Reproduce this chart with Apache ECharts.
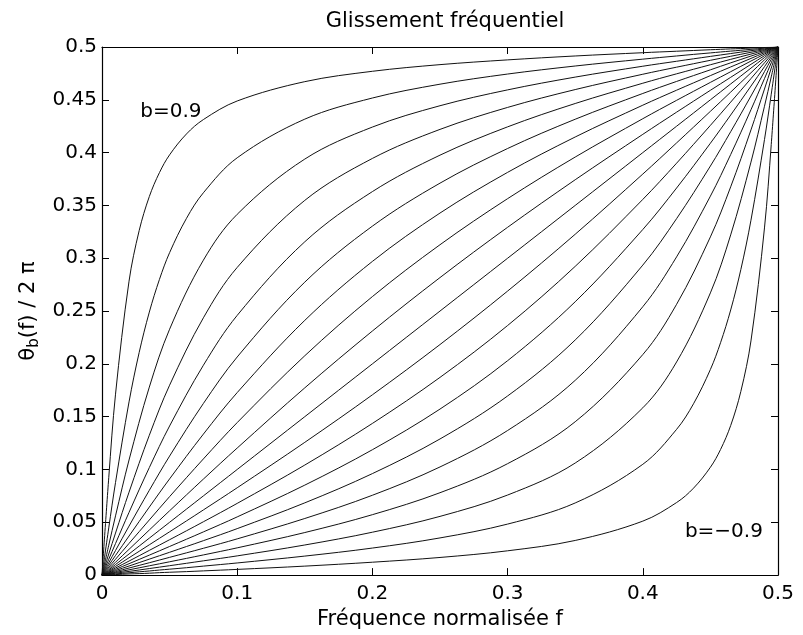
<!DOCTYPE html>
<html>
<head>
<meta charset="utf-8">
<script src="https://cdn.jsdelivr.net/npm/echarts@6/dist/echarts.min.js"></script>
<style>
  html, body { margin: 0; padding: 0; background: #fff; }
  #main { width: 803px; height: 635px; }
</style>
</head>
<body>
<div id="main"></div>
<script>
// frequence normalisee (axe x), pas plus fin pres des bords
var freq = [0, 0.005, 0.01, 0.02, 0.035, 0.05, 0.075, 0.1, 0.15, 0.2, 0.25, 0.3, 0.35, 0.4, 0.425, 0.45, 0.465, 0.48, 0.49, 0.495, 0.5];
// grille plus serree pour les courbes b=+-0.9 et b=+-0.8 (coudes marques)
var freqFine = [0, 0.005, 0.01, 0.02, 0.0275, 0.035, 0.0425, 0.05, 0.0625, 0.075, 0.1, 0.15, 0.2, 0.25, 0.3, 0.35, 0.4, 0.425, 0.4375, 0.45, 0.4575, 0.465, 0.4725, 0.48, 0.49, 0.495, 0.5];

// theta_b(f)/2pi pour chaque b
var b_p9 = [0, 0.0923, 0.1713, 0.2783, 0.3262, 0.3584, 0.3811, 0.3979, 0.4177, 0.4313, 0.4489, 0.4672, 0.4770, 0.4833, 0.4878, 0.4915, 0.4946, 0.4960, 0.4967, 0.4974, 0.4978, 0.4982, 0.4985, 0.4990, 0.4995, 0.4997, 0.5];
var b_p8 = [0, 0.0447, 0.0877, 0.1640, 0.2108, 0.2490, 0.2800, 0.3053, 0.3378, 0.3620, 0.3951, 0.4317, 0.4517, 0.4648, 0.4744, 0.4820, 0.4885, 0.4915, 0.4930, 0.4944, 0.4953, 0.4961, 0.4969, 0.4978, 0.4989, 0.4994, 0.5];
var b_p7 = [0, 0.0283, 0.0561, 0.1090, 0.1780, 0.2328, 0.2982, 0.3416, 0.3939, 0.4242, 0.4444, 0.4594, 0.4715, 0.4818, 0.4865, 0.4911, 0.4938, 0.4965, 0.4982, 0.4991, 0.5];
var b_p6 = [0, 0.0200, 0.0398, 0.0785, 0.1324, 0.1798, 0.2436, 0.2913, 0.3548, 0.3945, 0.4220, 0.4428, 0.4597, 0.4742, 0.4809, 0.4874, 0.4912, 0.4950, 0.4975, 0.4988, 0.5];
var b_p5 = [0, 0.0150, 0.0299, 0.0594, 0.1018, 0.1412, 0.1987, 0.2459, 0.3156, 0.3631, 0.3976, 0.4244, 0.4465, 0.4657, 0.4746, 0.4832, 0.4883, 0.4933, 0.4967, 0.4983, 0.5];
var b_p4 = [0, 0.0117, 0.0233, 0.0464, 0.0803, 0.1127, 0.1625, 0.2065, 0.2774, 0.3304, 0.3711, 0.4039, 0.4316, 0.4560, 0.4674, 0.4784, 0.4850, 0.4914, 0.4957, 0.4979, 0.5];
var b_p3 = [0, 0.0093, 0.0186, 0.0370, 0.0644, 0.0911, 0.1335, 0.1728, 0.2412, 0.2970, 0.3428, 0.3813, 0.4148, 0.4449, 0.4591, 0.4729, 0.4811, 0.4892, 0.4946, 0.4973, 0.5];
var b_p2 = [0, 0.0075, 0.0150, 0.0300, 0.0522, 0.0743, 0.1100, 0.1444, 0.2077, 0.2637, 0.3128, 0.3564, 0.3958, 0.4321, 0.4495, 0.4665, 0.4766, 0.4867, 0.4933, 0.4967, 0.5];
var b_p1 = [0, 0.0061, 0.0122, 0.0244, 0.0427, 0.0609, 0.0909, 0.1203, 0.1773, 0.2311, 0.2817, 0.3293, 0.3743, 0.4173, 0.4383, 0.4590, 0.4713, 0.4836, 0.4918, 0.4959, 0.5];
var b_0  = [0, 0.005, 0.01, 0.02, 0.035, 0.05, 0.075, 0.1, 0.15, 0.2, 0.25, 0.3, 0.35, 0.4, 0.425, 0.45, 0.465, 0.48, 0.49, 0.495, 0.5];
var b_m1 = [0, 0.0041, 0.0082, 0.0164, 0.0287, 0.0410, 0.0617, 0.0827, 0.1257, 0.1707, 0.2183, 0.2689, 0.3227, 0.3797, 0.4092, 0.4391, 0.4573, 0.4756, 0.4878, 0.4939, 0.5];
var b_m2 = [0, 0.0033, 0.0067, 0.0133, 0.0234, 0.0335, 0.0505, 0.0679, 0.1042, 0.1436, 0.1872, 0.2363, 0.2923, 0.3557, 0.3900, 0.4258, 0.4478, 0.4701, 0.4850, 0.4925, 0.5];
var b_m3 = [0, 0.0027, 0.0054, 0.0108, 0.0189, 0.0271, 0.0409, 0.0551, 0.0852, 0.1187, 0.1572, 0.2030, 0.2588, 0.3272, 0.3665, 0.4089, 0.4356, 0.4630, 0.4814, 0.4907, 0.5];
var b_m4 = [0, 0.0021, 0.0043, 0.0086, 0.0151, 0.0216, 0.0326, 0.0440, 0.0684, 0.0961, 0.1289, 0.1696, 0.2226, 0.2935, 0.3375, 0.3873, 0.4198, 0.4536, 0.4767, 0.4883, 0.5];
var b_m5 = [0, 0.0017, 0.0033, 0.0067, 0.0117, 0.0168, 0.0254, 0.0343, 0.0536, 0.0756, 0.1024, 0.1369, 0.1844, 0.2541, 0.3013, 0.3588, 0.3982, 0.4406, 0.4701, 0.4850, 0.5];
var b_m6 = [0, 0.0013, 0.0025, 0.0050, 0.0088, 0.0126, 0.0191, 0.0258, 0.0403, 0.0572, 0.0780, 0.1055, 0.1452, 0.2088, 0.2564, 0.3202, 0.3676, 0.4215, 0.4602, 0.4800, 0.5];
var b_m7 = [0, 0.0009, 0.0018, 0.0035, 0.0062, 0.0089, 0.0135, 0.0182, 0.0285, 0.0406, 0.0556, 0.0758, 0.1061, 0.1584, 0.2018, 0.2672, 0.3221, 0.3910, 0.4439, 0.4717, 0.5];
var b_m8 = [0, 0.0006, 0.0011, 0.0022, 0.0031, 0.0039, 0.0048, 0.0056, 0.0070, 0.0085, 0.0115, 0.0180, 0.0256, 0.0352, 0.0483, 0.0683, 0.1049, 0.1380, 0.1622, 0.1947, 0.2200, 0.2510, 0.2892, 0.3360, 0.4123, 0.4553, 0.5];
var b_m9 = [0, 0.0003, 0.0005, 0.0011, 0.0014, 0.0018, 0.0023, 0.0027, 0.0033, 0.0040, 0.0054, 0.0085, 0.0122, 0.0167, 0.0230, 0.0328, 0.0511, 0.0687, 0.0823, 0.1021, 0.1189, 0.1416, 0.1738, 0.2217, 0.3287, 0.4077, 0.5];

var bNames = ['0.9', '0.8', '0.7', '0.6', '0.5', '0.4', '0.3', '0.2', '0.1', '0',
              '-0.1', '-0.2', '-0.3', '-0.4', '-0.5', '-0.6', '-0.7', '-0.8', '-0.9'];
var curves = [b_p9, b_p8, b_p7, b_p6, b_p5, b_p4, b_p3, b_p2, b_p1, b_0,
              b_m1, b_m2, b_m3, b_m4, b_m5, b_m6, b_m7, b_m8, b_m9];

var FONT = 'DejaVu Sans';

var myChart = echarts.init(document.getElementById('main'));

var series = [];
curves.forEach(function (c, k) {
  var xs = c.length === freqFine.length ? freqFine : freq;
  series.push({
    name: 'b=' + bNames[k],
    type: 'line',
    data: xs.map(function (f, i) { return [f, c[i]]; }),
    showSymbol: false,
    smooth: 0.35,
    lineStyle: { color: '#111', width: 1 },
    silent: true,
    z: 2
  });
});

function axisCommon() {
  return {
    type: 'value',
    min: 0,
    max: 0.5,
    axisLine: { show: true, onZero: false, lineStyle: { color: '#000', width: 1.2 } },
    axisTick: { show: true, inside: true, length: 7, lineStyle: { color: '#000' } },
    splitLine: { show: false }
  };
}

var xBottom = axisCommon();
xBottom.interval = 0.1;
xBottom.position = 'bottom';
xBottom.axisLabel = { margin: 9, color: '#000', fontFamily: FONT, fontSize: 20 };
xBottom.name = 'Fréquence normalisée f';
xBottom.nameLocation = 'middle';
xBottom.nameGap = 32;
xBottom.nameTextStyle = { color: '#000', fontFamily: FONT, fontSize: 21 };

var xTop = axisCommon();
xTop.interval = 0.1;
xTop.position = 'top';
xTop.axisLabel = { show: false };

var yLeft = axisCommon();
yLeft.interval = 0.05;
yLeft.position = 'left';
yLeft.axisLabel = { margin: 5, color: '#000', fontFamily: FONT, fontSize: 20 };
yLeft.name = '{t|θ}{s|b}{t|(f) / 2 π}';
yLeft.nameLocation = 'middle';
yLeft.nameRotate = 90;
yLeft.nameGap = 47;
yLeft.nameTextStyle = {
  color: '#000',
  fontFamily: FONT,
  rich: {
    t: { fontFamily: FONT, fontSize: 21, color: '#000', lineHeight: 30 },
    s: { fontFamily: FONT, fontSize: 15, color: '#000', lineHeight: 30, padding: [12, 0, 0, 0] }
  }
};

var yRight = axisCommon();
yRight.interval = 0.05;
yRight.position = 'right';
yRight.axisLabel = { show: false };

var option = {
  backgroundColor: '#fff',
  animation: false,
  title: {
    text: 'Glissement fréquentiel',
    left: 440,
    textAlign: 'center',
    top: 6,
    textStyle: { color: '#000', fontFamily: FONT, fontSize: 21, fontWeight: 'normal' }
  },
  grid: { left: 102, right: 25, top: 47, bottom: 55 },
  xAxis: [xBottom, xTop],
  yAxis: [yLeft, yRight],
  series: series
};

myChart.setOption(option);

// etiquettes b=0.9 et b=-0.9, placees en coordonnees de donnees
var notes = [
  { text: 'b=0.9', at: [0.051, 0.439] },
  { text: 'b=\u22120.9', at: [0.460, 0.041] }
];
var graphics = notes.map(function (n) {
  var p = myChart.convertToPixel({ gridIndex: 0 }, n.at);
  return {
    type: 'text',
    x: p[0],
    y: p[1],
    style: {
      text: n.text,
      fill: '#000',
      font: '20px "DejaVu Sans"',
      textAlign: 'center',
      textVerticalAlign: 'middle'
    },
    z: 10
  };
});
myChart.setOption({ graphic: graphics });
</script>
</body>
</html>
